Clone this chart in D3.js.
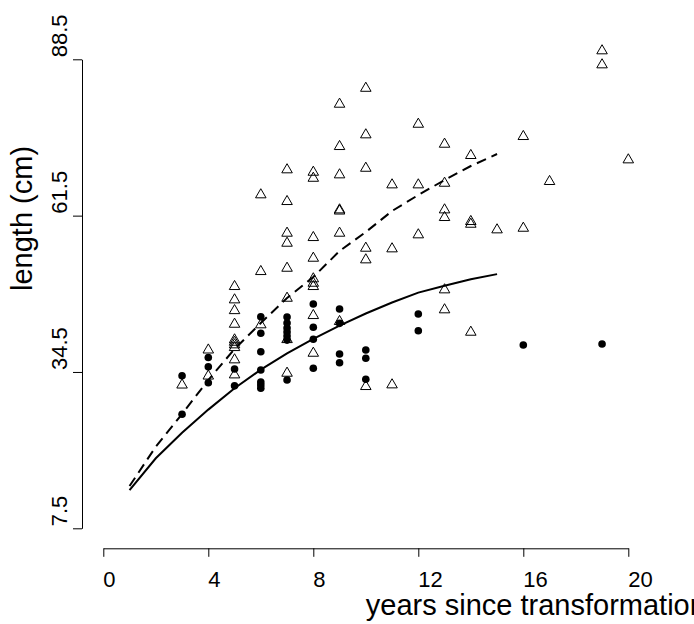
<!DOCTYPE html>
<html>
<head>
<meta charset="utf-8">
<script src="https://cdn.jsdelivr.net/npm/d3@7"></script>
<style>
  html, body { margin: 0; padding: 0; background: #fff; }
  svg { display: block; }
  text { font-family: "Liberation Sans", Arial, sans-serif; fill: #000; }
</style>
</head>
<body>
<svg id="chart" width="694" height="624"></svg>
<script>
// Open triangles: lengths by years since transformation
const triYears = [
  3,
  4, 4,
  5, 5, 5, 5, 5, 5, 5, 5, 5, 5,
  6, 6, 6,
  7, 7, 7, 7, 7, 7, 7, 7,
  8, 8, 8, 8, 8, 8, 8, 8, 8,
  9, 9, 9, 9, 9, 9, 9,
  10, 10, 10, 10, 10, 10,
  11, 11, 11,
  12, 12, 12,
  13, 13, 13, 13, 13, 13,
  14, 14, 14, 14,
  15,
  16, 16,
  17,
  19, 19,
  20
];
const triLength = [
  32.25,
  38.3, 33.8,
  49.26, 46.96, 45.1, 42.75, 40.05, 39.64, 39.19, 38.72, 36.6, 34.0,
  65.1, 51.85, 42.65,
  69.42, 63.94, 58.47, 56.74, 52.42, 47.24, 40.1, 34.29,
  69.0, 67.96, 57.72, 54.15, 50.59, 49.83, 49.26, 44.25, 37.74,
  80.75, 73.44, 68.55, 62.5, 62.3, 58.47, 43.22,
  83.5, 75.46, 69.69, 55.88, 53.87, 31.99,
  66.82, 55.77, 32.28,
  77.29, 66.82, 58.19,
  73.84, 67.1, 62.5, 61.18, 48.69, 45.24,
  71.89, 60.49, 60.02, 41.37,
  59.05,
  75.17, 59.33,
  67.4,
  89.97, 87.55,
  71.14
];

// Filled circles: lengths by years since transformation
const dotYears = [
  3, 3,
  4, 4, 4,
  5, 5,
  6, 6, 6, 6, 6, 6, 6,
  7, 7, 7, 7, 7, 7, 7,
  8, 8, 8, 8,
  9, 9, 9, 9,
  10, 10, 10,
  12, 12,
  16,
  19
];
const dotLength = [
  33.85, 27.2,
  37.0, 35.4, 32.65,
  35.0, 32.1,
  44.04, 41.18, 38.0, 34.84, 32.77, 32.25, 31.7,
  44.0, 42.96, 42.1, 41.4, 40.7, 40.0, 33.1,
  46.24, 42.21, 40.14, 35.13,
  45.37, 42.9, 37.6, 36.1,
  38.29, 36.86, 33.23,
  44.51, 41.63,
  39.16,
  39.33
];

// Fitted growth curves, evaluated at whole years
const fitYears = [1, 2, 3, 4, 5, 6, 7, 8, 9, 10, 11, 12, 13, 14, 15];
const fitDashed = [14.8, 21.6, 27.24, 33.11, 38.47, 42.96, 47.27, 50.9, 55.39, 58.67, 62.3, 65.06, 67.65, 70.07, 72.14];
const fitSolid = [14.1, 19.6, 24.0, 28.0, 31.7, 34.9, 37.7, 40.2, 42.5, 44.6, 46.5, 48.2, 49.4, 50.5, 51.4];

// Axis ticks and titles
const xTicks = [0, 4, 8, 12, 16, 20];
const yTicks = [7.5, 34.5, 61.5, 88.5];
const xTitle = "years since transformation";
const yTitle = "length (cm)";

const svg = d3.select("#chart");

const x = d3.scaleLinear().domain([0, 20]).range([103.3, 628.3]);
const y = d3.scaleLinear().domain([7.5, 88.5]).range([528.3, 59.3]);

const xAxisY = 548.3;
const yAxisX = 82;
const fontSize = 22;
const titleSize = 29;

// x axis
const gx = svg.append("g")
  .attr("transform", `translate(0,${xAxisY})`)
  .call(d3.axisBottom(x).tickValues(xTicks).tickSize(8.5).tickSizeOuter(0).tickFormat(""));
gx.select(".domain").attr("stroke", "#000");
gx.selectAll(".tick line").attr("stroke", "#000");

svg.append("g").selectAll("text")
  .data(xTicks)
  .join("text")
  .attr("x", d => x(d))
  .attr("y", 587)
  .attr("text-anchor", "start")
  .style("font-size", fontSize + "px")
  .text(d => d);

// y axis
const gy = svg.append("g")
  .attr("transform", `translate(${yAxisX},0)`)
  .call(d3.axisLeft(y).tickValues(yTicks).tickSize(9).tickSizeOuter(0).tickFormat(""));
gy.select(".domain").attr("stroke", "#000");
gy.selectAll(".tick line").attr("stroke", "#000");

svg.append("g").selectAll("text")
  .data(yTicks)
  .join("text")
  .attr("transform", d => `translate(67,${y(d) - 2}) rotate(-90)`)
  .attr("text-anchor", "start")
  .style("font-size", fontSize + "px")
  .text(d => d3.format(".1f")(d));

// axis titles
svg.append("text")
  .attr("x", 365.8)
  .attr("y", 615)
  .attr("text-anchor", "start")
  .style("font-size", titleSize + "px")
  .text(xTitle);

svg.append("text")
  .attr("transform", "translate(32,291) rotate(-90)")
  .attr("text-anchor", "start")
  .style("font-size", titleSize + "px")
  .text(yTitle);

// fitted curves
const line = d3.line().x(d => x(d[0])).y(d => y(d[1]));

svg.append("path")
  .datum(d3.zip(fitYears, fitDashed))
  .attr("d", line)
  .attr("fill", "none")
  .attr("stroke", "#000")
  .attr("stroke-width", 2)
  .attr("stroke-dasharray", "10,6");

svg.append("path")
  .datum(d3.zip(fitYears, fitSolid))
  .attr("d", line)
  .attr("fill", "none")
  .attr("stroke", "#000")
  .attr("stroke-width", 2);

// points
const tri = d3.symbol().type(d3.symbolTriangle).size(48);
svg.append("g").selectAll("path")
  .data(d3.zip(triYears, triLength))
  .join("path")
  .attr("transform", d => `translate(${x(d[0])},${y(d[1])})`)
  .attr("d", tri)
  .attr("fill", "none")
  .attr("stroke", "#000")
  .attr("stroke-width", 1);

svg.append("g").selectAll("circle")
  .data(d3.zip(dotYears, dotLength))
  .join("circle")
  .attr("cx", d => x(d[0]))
  .attr("cy", d => y(d[1]))
  .attr("r", 3.8)
  .attr("fill", "#000");
</script>
</body>
</html>
